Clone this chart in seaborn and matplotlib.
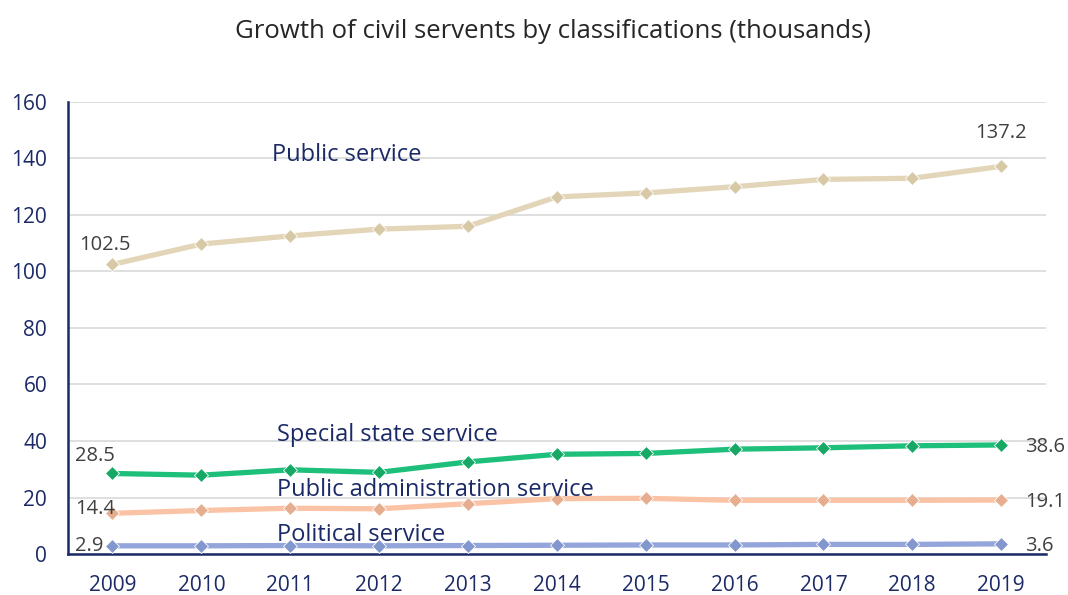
import matplotlib
matplotlib.use("Agg")
import matplotlib.pyplot as plt
import seaborn as sns
import pandas as pd

years = [2009, 2010, 2011, 2012, 2013, 2014, 2015, 2016, 2017, 2018, 2019]
public_service = [102.5, 109.7, 112.6, 115.0, 116.0, 126.4, 127.8, 130.0, 132.6, 133.0, 137.2]
special_state = [28.5, 27.9, 29.8, 28.9, 32.6, 35.3, 35.6, 37.1, 37.6, 38.3, 38.6]
public_admin = [14.4, 15.4, 16.2, 16.0, 17.8, 19.6, 19.7, 19.0, 19.0, 19.0, 19.1]
political = [2.9, 2.9, 3.0, 2.9, 3.0, 3.1, 3.2, 3.2, 3.4, 3.4, 3.6]

series_names = ["Public service", "Special state service",
                "Public administration service", "Political service"]
series_values = [public_service, special_state, public_admin, political]
line_colors = ["#e3d5b8", "#1dbf7b", "#fbc3a5", "#93a5da"]
marker_colors = ["#d8c9a6", "#17a866", "#e6ae8e", "#8397cf"]

sns.set_theme(style="white")
plt.rcParams["font.family"] = ["Open Sans", "DejaVu Sans"]

navy = "#1b2a66"
grey_text = "#404040"

df = pd.DataFrame({
    "year": years * len(series_names),
    "value": sum(series_values, []),
    "series": sum([[n] * len(years) for n in series_names], []),
})

fig = plt.figure(figsize=(10.68, 5.95), dpi=100)
ax = fig.add_axes([0.0637, 0.0689, 0.9153, 0.7597])

for name, lc, mc in zip(series_names, line_colors, marker_colors):
    sub = df[df["series"] == name]
    sns.lineplot(data=sub, x="year", y="value", ax=ax, color=lc, linewidth=3.8,
                 marker="D", markersize=7, markerfacecolor=mc,
                 markeredgecolor="#ffffff", markeredgewidth=0.6, zorder=3)

ax.set_xlim(2008.5, 2019.5)
ax.set_ylim(0, 160)
ax.set_yticks(range(0, 161, 20))
ax.set_xticks(years)
ax.set_xticklabels([str(y) for y in years])
ax.set_xlabel("")
ax.set_ylabel("")
ax.grid(axis="y", color="#d9d9d9", linewidth=1.2, zorder=0)
ax.set_axisbelow(True)
for side in ["top", "right"]:
    ax.spines[side].set_visible(False)
for side in ["left", "bottom"]:
    ax.spines[side].set_color(navy)
    ax.spines[side].set_linewidth(1.8)
ax.tick_params(axis="both", colors=navy, labelsize=15, length=0)
ax.tick_params(axis="x", pad=15)
ax.tick_params(axis="y", pad=15)

fig.suptitle("Growth of civil servents by classifications (thousands)",
             x=0.518, y=0.968, fontsize=18.5, color="#262626")

# series names inside the plot area
name_pos = [(2010.8, 141.2), (2010.85, 42.1), (2010.85, 22.6), (2010.85, 6.7)]
for name, (xx, yy) in zip(series_names, name_pos):
    ax.text(xx, yy, name, color=navy, fontsize=17, ha="left", va="center")

# first and last values
ax.text(2008.92, 109.4, f"{public_service[0]}", color=grey_text,
        fontsize=14.5, ha="center", va="center")
ax.text(2019, 149.0, f"{public_service[-1]}", color=grey_text,
        fontsize=14.5, ha="center", va="center")
left_y = [34.7, 15.9, 2.8]
right_y = [37.9, 18.4, 2.8]
for vals, ly, ry in zip([special_state, public_admin, political], left_y, right_y):
    ax.text(2008.58, ly, f"{vals[0]}", color=grey_text, fontsize=14.5,
            ha="left", va="center")
    ax.text(2019.27, ry, f"{vals[-1]}", color=grey_text, fontsize=14.5,
            ha="left", va="center")

fig.savefig("out.png", dpi=100)
